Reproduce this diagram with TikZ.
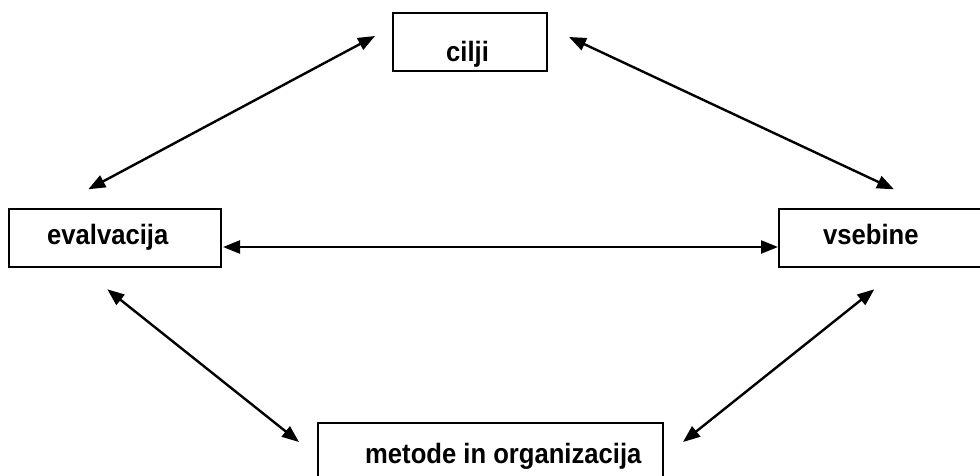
\documentclass[tikz,border=0pt]{standalone}
\usepackage{fontspec}
\setmainfont{Liberation Sans}
\usetikzlibrary{arrows.meta}
\newcommand{\narrowtext}[1]{\scalebox{0.915}[1]{#1}}
\begin{document}
\begin{tikzpicture}[x=1pt,y=-1pt,
  boxnode/.style={draw=black,line width=2pt,fill=white},
  lbl/.style={inner sep=0pt,anchor=base west,font=\fontsize{28pt}{32pt}\selectfont\bfseries},
  link/.style={line width=2.4pt,{Triangle[length=17pt,width=13pt]}-{Triangle[length=17pt,width=13pt]}}]
\useasboundingbox (0,0) rectangle (980,476);
% boxes
\draw[boxnode] (392.7,12.7) rectangle (547,70.7);
\draw[boxnode] (9,209) rectangle (220.7,266.7);
\draw[boxnode] (779,209) rectangle (990,266.7);
\draw[boxnode] (317.7,423.3) rectangle (663,490);
% labels
\node[lbl] (cilji) at (446,61.5) {\narrowtext{cilji}};
\node[lbl] (evalvacija) at (47,244) {\narrowtext{evalvacija}};
\node[lbl] (vsebine) at (823,244) {\narrowtext{vsebine}};
\node[lbl] (metode) at (365,463) {\narrowtext{metode in organizacija}};
% arrow ends
\coordinate (c1) at (375,36);
\coordinate (c2) at (569,37);
\coordinate (e1) at (88.3,189.3);
\coordinate (e2) at (223,247);
\coordinate (e3) at (107.3,289.3);
\coordinate (v1) at (894,189.3);
\coordinate (v2) at (778,247);
\coordinate (v3) at (874.3,289.3);
\coordinate (m1) at (299,442);
\coordinate (m2) at (683,442);
% connectors
\draw[link] (c1) -- (e1);
\draw[link] (c2) -- (v1);
\draw[link] (e2) -- (v2);
\draw[link] (e3) -- (m1);
\draw[link] (v3) -- (m2);
\end{tikzpicture}
\end{document}
